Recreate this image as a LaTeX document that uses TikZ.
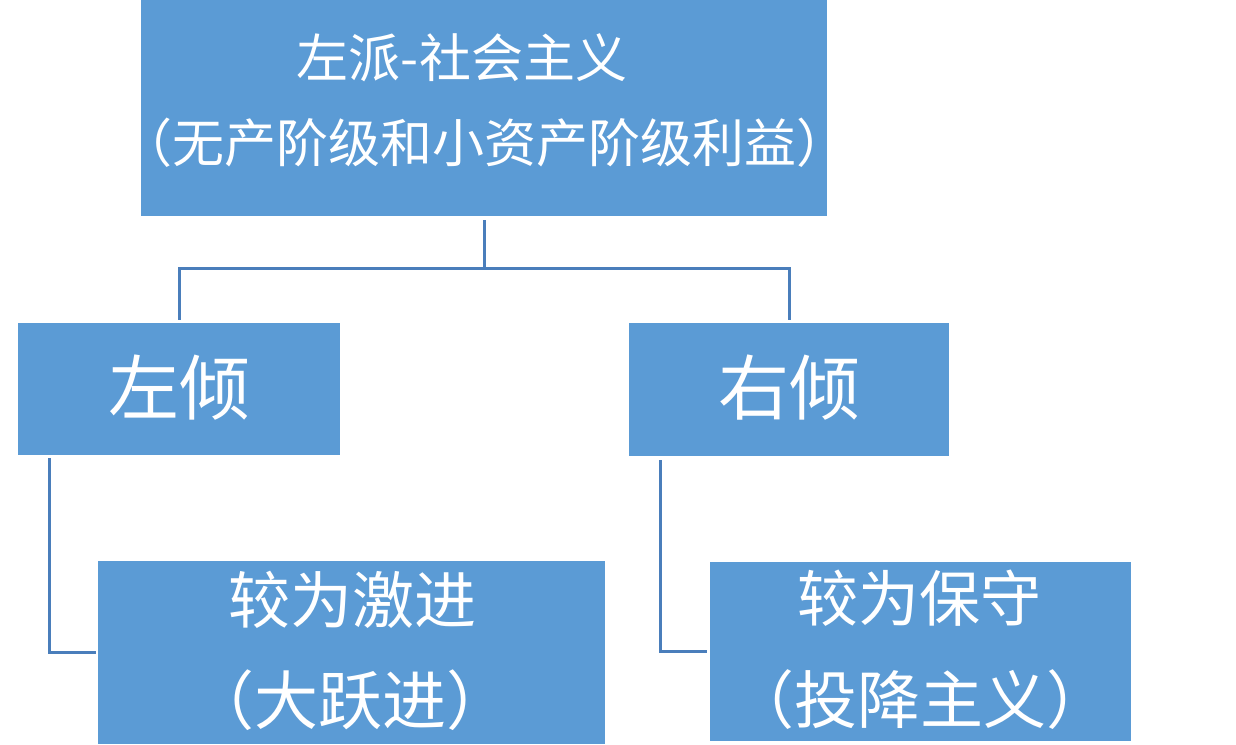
\documentclass[tikz,border=0pt]{standalone}
\usepackage{fontspec}
\newfontfamily\cjk{Noto Sans CJK SC}
\definecolor{boxblue}{HTML}{5B9BD5}
\definecolor{linkblue}{HTML}{4A7EBB}
\begin{document}
\begin{tikzpicture}[x=1pt,y=-1pt,
  blk/.style={fill=boxblue,draw=none,inner sep=0pt,outer sep=0pt},
  txt/.style={text=white,inner sep=0pt,font=\cjk},
  conn/.style={draw=linkblue,line width=3pt}]
\useasboundingbox[fill=white] (0,0) rectangle (1236,744);
% boxes
\node[blk,minimum width=686pt,minimum height=216pt] (top) at (484,108) {};
\node[blk,minimum width=322pt,minimum height=132pt] (left) at (179,389) {};
\node[blk,minimum width=320pt,minimum height=133pt] (right) at (789,389.5) {};
\node[blk,minimum width=507pt,minimum height=183pt] (bl) at (351.5,652.5) {};
\node[blk,minimum width=421pt,minimum height=179pt] (br) at (920.5,651.5) {};
% texts
\node[txt,font=\cjk\fontsize{52}{52}\selectfont] (t1) at (462,58) {左派-社会主义};
\node[txt,font=\cjk\fontsize{52}{52}\selectfont] (t2) at (484,143) {（无产阶级和小资产阶级利益）};
\node[txt,font=\cjk\fontsize{71}{71}\selectfont] (l1) at (179,388) {左倾};
\node[txt,font=\cjk\fontsize{71}{71}\selectfont] (r1) at (789,388) {右倾};
\node[txt,font=\cjk\fontsize{62}{62}\selectfont] (bl1) at (352,600) {较为激进};
\node[txt,font=\cjk\fontsize{64}{64}\selectfont] (bl2) at (350,700) {（大跃进）};
\node[txt,font=\cjk\fontsize{61}{61}\selectfont] (br1) at (919,598) {较为保守};
\node[txt,font=\cjk\fontsize{63}{63}\selectfont] (br2) at (920,700) {（投降主义）};
% connectors
\coordinate (bus) at (484,268);
\draw[conn] ([yshift=-4pt]top.south) -- (bus);
\draw[conn] (bus) -| ([yshift=3pt]left.north);
\draw[conn] (bus) -| ([yshift=3pt]right.north);
\draw[conn] ([xshift=-130pt,yshift=-3pt]left.south) |- ([xshift=-2pt]bl.west);
\draw[conn] ([xshift=-129pt,yshift=-4pt]right.south) |- ([xshift=-3pt]br.west);
\end{tikzpicture}
\end{document}
